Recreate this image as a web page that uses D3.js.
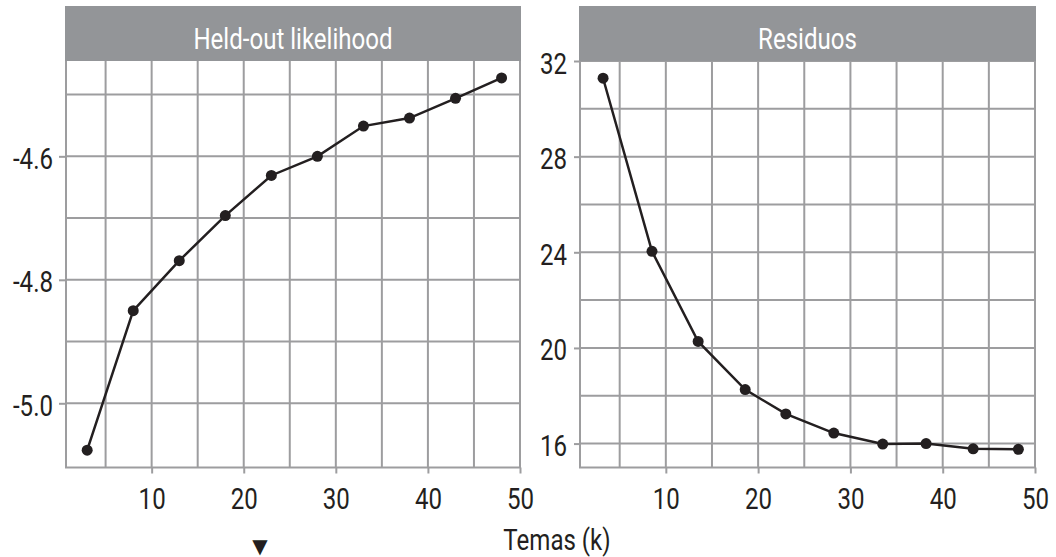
<!DOCTYPE html>
<html><head><meta charset="utf-8">
<script src="https://cdn.jsdelivr.net/npm/d3@7"></script>
<style>body{margin:0;background:#fff;overflow:hidden}svg{display:block}</style>
</head><body>
<script>
// ---- data ----
const titles = ["Held-out likelihood", "Residuos"];
const xLabel = "Temas (k)";
const xTicks = [10, 20, 30, 40, 50];
const xMinor = [5, 15, 25, 35, 45];
const likK = [3, 8, 13, 18, 23, 28, 33, 38, 43, 48];
const likVals = [-5.076, -4.850, -4.769, -4.696, -4.631, -4.600, -4.551, -4.538, -4.506, -4.473];
const resK = [3.2, 8.5, 13.5, 18.6, 23.0, 28.2, 33.5, 38.2, 43.3, 48.2];
const resVals = [31.28, 24.04, 20.27, 18.26, 17.24, 16.44, 15.98, 16.00, 15.78, 15.76];
const likTicks = [-5.0, -4.8, -4.6];
const likMinor = [-4.9, -4.7, -4.5];
const resTicks = [16, 20, 24, 28, 32];
const resMinor = [18, 22, 26, 30];

// ---- style ----
const W = 1056, H = 557;
const FONT = "Roboto, 'Liberation Sans', sans-serif";
const FS = 29, SX = 0.83;
const GRID = "#9d9d9f", HEAD = "#939598", INK = "#231f20";
const plotTop = 61, plotBottom = 467.5, headTop = 6;

const svg = d3.select("body").append("svg").attr("width", W).attr("height", H);

const panels = [
  {title: titles[0], x0: 66, x1: 520, xdom: [0.7, 50], ydom: [-5.104, -4.4456],
   k: likK, v: likVals, ticks: likTicks, minor: likMinor, fmt: d => d.toFixed(1), tickLen: 7},
  {title: titles[1], x0: 580, x1: 1035, xdom: [0.7, 50], ydom: [15.0, 32.0],
   k: resK, v: resVals, ticks: resTicks, minor: resMinor, fmt: d => String(d), tickLen: 6}
];

function condense(sel, tx, ty) {
  sel.attr("x", null).attr("y", null).attr("dy", null)
     .attr("transform", `translate(${tx},${ty}) scale(${SX},1)`);
}

panels.forEach(p => {
  const x = d3.scaleLinear().domain(p.xdom).range([p.x0, p.x1]);
  const y = d3.scaleLinear().domain(p.ydom).range([plotBottom, plotTop]);
  const g = svg.append("g");

  // grid
  const vLines = xMinor.concat(xTicks);
  g.selectAll(".vg").data(vLines).join("line")
    .attr("x1", d => x(d)).attr("x2", d => x(d)).attr("y1", plotTop).attr("y2", plotBottom)
    .attr("stroke", GRID).attr("stroke-width", 2);
  g.selectAll(".hg").data(p.ticks.concat(p.minor)).join("line")
    .attr("x1", p.x0).attr("x2", p.x1).attr("y1", d => y(d)).attr("y2", d => y(d))
    .attr("stroke", GRID).attr("stroke-width", 2);
  // border
  g.append("path")
    .attr("d", `M${p.x0},${plotTop}V${plotBottom}H${p.x1}V${plotTop}`)
    .attr("fill", "none").attr("stroke", GRID).attr("stroke-width", 2);

  // header strip
  g.append("rect").attr("x", p.x0 - 1).attr("y", headTop)
    .attr("width", p.x1 - p.x0 + 2).attr("height", plotTop - headTop).attr("fill", HEAD);
  g.append("text").text(p.title)
    .attr("font-family", FONT).attr("font-size", FS).attr("fill", "#fff")
    .attr("text-anchor", "middle")
    .call(s => condense(s, (p.x0 + p.x1) / 2, 49));

  // axes
  const ax = g.append("g").attr("transform", `translate(0,${plotBottom})`)
    .call(d3.axisBottom(x).tickValues(xTicks).tickSize(6).tickPadding(0));
  const ay = g.append("g").attr("transform", `translate(${p.x0},0)`)
    .call(d3.axisLeft(y).tickValues(p.ticks).tickFormat(p.fmt).tickSize(p.tickLen).tickPadding(0));
  [ax, ay].forEach(a => {
    a.select(".domain").remove();
    a.selectAll(".tick line").attr("stroke", GRID).attr("stroke-width", 2);
    a.selectAll(".tick text").attr("font-family", FONT).attr("font-size", FS).attr("fill", INK);
  });
  ax.selectAll(".tick text").attr("text-anchor", "middle").call(s => condense(s, 0, 41.5));
  ay.selectAll(".tick text").attr("text-anchor", "end").call(s => condense(s, -13, 12));

  // series
  const pts = p.k.map((k, i) => [k, p.v[i]]);
  g.append("path").datum(pts)
    .attr("d", d3.line().x(d => x(d[0])).y(d => y(d[1])))
    .attr("fill", "none").attr("stroke", INK).attr("stroke-width", 2.5);
  g.selectAll(".pt").data(pts).join("circle")
    .attr("cx", d => x(d[0])).attr("cy", d => y(d[1])).attr("r", 5.5).attr("fill", INK);
});

// x label and marker
svg.append("text").text(xLabel)
  .attr("font-family", FONT).attr("font-size", FS).attr("fill", INK).attr("text-anchor", "middle")
  .call(s => condense(s, 557, 550));
svg.append("text").text("▼")
  .attr("font-family", "'DejaVu Sans', sans-serif").attr("font-size", 20).attr("fill", INK)
  .attr("text-anchor", "middle").attr("x", 260).attr("y", 553);
</script>
</body></html>
